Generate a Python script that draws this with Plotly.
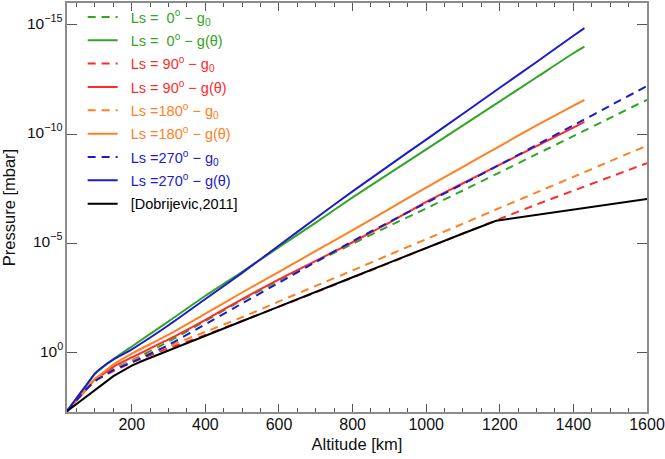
import plotly.graph_objects as go

# altitude grids [km]
alt_full = [24, 50, 75, 100, 125, 150, 200, 300, 400, 500, 600, 700, 800,
            900, 1000, 1100, 1200, 1300, 1400, 1500, 1600]
alt_solid = [24, 50, 75, 100, 125, 150, 200, 300, 400, 500, 600, 700, 800,
             900, 1000, 1100, 1200, 1300, 1400, 1430]
alt_black = [24, 50, 75, 100, 125, 150, 175, 200, 225, 250, 300, 400, 500, 600,
             700, 800, 900, 1000, 1100, 1190, 1600]

# pressures [mbar]
p_ls0_g0 = [4.8e2, 1.41e2, 4.79e1, 1.78e1, 9.55, 5.62, 2.24, 3.16e-1, 3.55e-2,
            3.98e-3, 5.01e-4, 7.08e-5, 1.05e-5, 1.58e-6, 2.51e-7, 3.80e-8,
            5.62e-9, 8.32e-10, 1.23e-10, 1.82e-11, 2.69e-12]
p_ls0_gt = [4.8e2, 1.26e2, 3.55e1, 9.55, 4.17, 2.0, 5.25e-1, 3.72e-2, 2.51e-3,
            2.0e-4, 1.51e-5, 1.12e-6, 7.94e-8, 6.31e-9, 5.01e-10, 3.98e-11,
            3.16e-12, 2.51e-13, 2.0e-14, 1.0e-14]
p_ls90_g0 = [4.8e2, 1.48e2, 5.25e1, 2.0e1, 1.12e1, 7.08, 2.82, 6.31e-1, 1.58e-1,
             3.55e-2, 7.94e-3, 1.74e-3, 3.72e-4, 7.94e-5, 1.66e-5, 3.55e-6,
             7.59e-7, 1.66e-7, 3.89e-8, 9.12e-9, 2.14e-9]
p_ls90_gt = [4.8e2, 1.58e2, 5.25e1, 1.66e1, 8.91, 4.47, 1.66, 2.51e-1, 3.16e-2,
             3.55e-3, 4.47e-4, 6.31e-5, 8.91e-6, 1.12e-6, 1.26e-7, 1.78e-8,
             2.51e-9, 3.55e-10, 5.01e-11, 2.75e-11]
p_ls180_g0 = [4.8e2, 1.41e2, 5.01e1, 1.86e1, 1.0e1, 6.31, 2.40, 5.01e-1, 1.12e-1,
              2.40e-2, 4.57e-3, 8.91e-4, 1.74e-4, 3.31e-5, 6.46e-6, 1.26e-6,
              2.40e-7, 4.68e-8, 9.12e-9, 1.74e-9, 3.39e-10]
p_ls180_gt = [4.8e2, 1.58e2, 5.01e1, 1.58e1, 7.59, 3.55, 1.12, 1.51e-1, 1.66e-2,
              1.78e-3, 2.0e-4, 2.24e-5, 2.51e-6, 2.63e-7, 2.82e-8, 3.16e-9,
              3.55e-10, 3.98e-11, 5.01e-12, 2.75e-12]
p_ls270_g0 = [4.8e2, 1.48e2, 5.01e1, 2.0e1, 1.12e1, 6.31, 2.82, 4.47e-1, 5.01e-2,
              5.62e-3, 6.31e-4, 7.08e-5, 7.94e-6, 1.05e-6, 1.41e-7, 1.91e-8,
              2.51e-9, 3.16e-10, 3.98e-11, 5.01e-12, 6.31e-13]
p_ls270_gt = [4.8e2, 1.20e2, 3.31e1, 8.91, 3.98, 2.09, 7.08e-1, 5.62e-2, 3.55e-3,
              2.24e-4, 1.26e-5, 7.08e-7, 4.17e-8, 2.69e-9, 1.78e-10, 1.17e-11,
              7.59e-13, 5.01e-14, 3.16e-15, 1.41e-15]
p_dobrijevic = [4.8e2, 2.19e2, 1.07e2, 5.25e1, 2.51e1, 1.20e1, 6.61, 3.98, 2.57,
                1.74, 8.32e-1, 1.82e-1, 3.55e-2, 7.94e-3, 1.66e-3, 3.55e-4,
                7.59e-5, 1.58e-5, 3.55e-6, 9.33e-7, 9.33e-8]

# tick labels
ytick_exp = [-15, -10, -5, 0]
ytick_vals = [1e-15, 1e-10, 1e-5, 1e0]
ytick_text = ["10<sup>\u221215</sup>", "10<sup>\u221210</sup>",
              "10<sup>\u22125</sup>", "10<sup>0</sup>"]
xtick_vals = [200, 400, 600, 800, 1000, 1200, 1400, 1600]

GREEN = "#33a524"
RED = "#ff2a2a"
ORANGE = "#ff7f22"
BLUE = "#1c1ccc"
BLACK = "#000000"

NB = "\u00a0"
PAD = NB * 2
series = [
    (alt_full, p_ls0_g0, GREEN, True, f"Ls ={NB}{NB}0<sup>o</sup> \u2212 g<sub>0</sub>"),
    (alt_solid, p_ls0_gt, GREEN, False, f"Ls ={NB}{NB}0<sup>o</sup> \u2212 g(\u03b8)"),
    (alt_full, p_ls90_g0, RED, True, "Ls = 90<sup>o</sup> \u2212 g<sub>0</sub>"),
    (alt_solid, p_ls90_gt, RED, False, "Ls = 90<sup>o</sup> \u2212 g(\u03b8)"),
    (alt_full, p_ls180_g0, ORANGE, True, "Ls =180<sup>o</sup> \u2212 g<sub>0</sub>"),
    (alt_solid, p_ls180_gt, ORANGE, False, "Ls =180<sup>o</sup> \u2212 g(\u03b8)"),
    (alt_full, p_ls270_g0, BLUE, True, "Ls =270<sup>o</sup> \u2212 g<sub>0</sub>"),
    (alt_solid, p_ls270_gt, BLUE, False, "Ls =270<sup>o</sup> \u2212 g(\u03b8)"),
    (alt_black, p_dobrijevic, BLACK, False, "[Dobrijevic,2011]"),
]

fig = go.Figure()
for i, (x, y, col, dashed, name) in enumerate(series):
    is_black = col == BLACK
    fig.add_trace(go.Scatter(
        x=x, y=y, mode="lines",
        name=f'{PAD}<span style="color:{col}">{name}</span>',
        legendgroup=f"g{i}",
        line=dict(color=col, width=2, dash="8px,6px" if dashed else "solid",
                  shape="linear" if is_black else "spline",
                  smoothing=0 if is_black else 0.6),
    ))

# y tick labels drawn at the axis' own tick positions
for e, t in zip(ytick_exp, ytick_text):
    fig.add_annotation(x=0, xref="paper", y=e, yref="y", text=t,
                       showarrow=False, xanchor="right", yanchor="middle",
                       xshift=-2, yshift=3,
                       font=dict(size=15.5, color="#111111"))

FONT = "Liberation Sans, Arial, Helvetica, sans-serif"
AXC = "#8c8c8c"
TKC = "#555555"
fig.update_layout(
    width=665, height=459,
    margin=dict(l=67, r=18, t=1, b=47),
    paper_bgcolor="white", plot_bgcolor="white",
    font=dict(family=FONT, size=15, color="#111111"),
    showlegend=True,
    legend=dict(x=0.027, y=1.005, xanchor="left", yanchor="top",
                bgcolor="rgba(0,0,0,0)", font=dict(size=14.5),
                itemwidth=30, tracegroupgap=1.5, traceorder="grouped"),
    xaxis=dict(range=[24, 1600], showgrid=False, zeroline=False, automargin=False,
               showline=True, linecolor=AXC, linewidth=1.5, mirror="allticks",
               ticks="inside", ticklen=8, tickcolor=TKC, tickwidth=1,
               tickvals=xtick_vals, ticklabelstandoff=-3,
               minor=dict(dtick=50, ticks="inside", ticklen=4,
                          tickcolor=TKC, showgrid=False),
               tickfont=dict(size=16, color="#111111"),
               title=dict(text="Altitude [km]", font=dict(size=16.5), standoff=6)),
    yaxis=dict(type="log", range=[2.72, -16.0], showgrid=False, zeroline=False,
               automargin=False,
               showline=True, linecolor=AXC, linewidth=1.5, mirror="allticks",
               ticks="inside", ticklen=10, tickcolor=TKC, tickwidth=1,
               tickvals=ytick_vals, ticktext=ytick_text, showticklabels=False,
               title=dict(text="Pressure [mbar]", font=dict(size=16.5), standoff=46)),
)

fig.write_html(
    "out.html",
    config={"displayModeBar": False},
    post_script="document.body.style.margin='0';document.body.style.overflow='hidden';",
)
